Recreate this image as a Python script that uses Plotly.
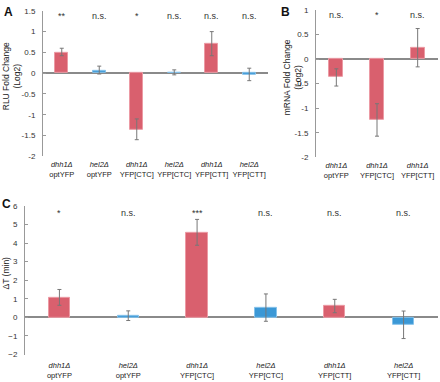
import plotly.graph_objects as go

W, H = 440, 382
FONT = "Liberation Sans, Arial, sans-serif"

# ---------------- data ----------------
catsA = ["<i>dhh1Δ</i><br>optYFP", "<i>hel2Δ</i><br>optYFP", "<i>dhh1Δ</i><br>YFP[CTC]",
         "<i>hel2Δ</i><br>YFP[CTC]", "<i>dhh1Δ</i><br>YFP[CTT]", "<i>hel2Δ</i><br>YFP[CTT]"]
valsA = [0.50, 0.06, -1.36, 0.02, 0.71, -0.03]
errA_up = [0.10, 0.11, 0.26, 0.06, 0.29, 0.15]
errA_dn = [0.08, 0.08, 0.24, 0.06, 0.29, 0.15]
colorsA = ["r", "b", "r", "b", "r", "b"]
sigA = ["**", "n.s.", "*", "n.s.", "n.s.", "n.s."]

catsB = ["<i>dhh1Δ</i><br>optYFP", "<i>dhh1Δ</i><br>YFP[CTC]", "<i>dhh1Δ</i><br>YFP[CTT]"]
valsB = [-0.37, -1.24, 0.23]
errB_up = [0.17, 0.33, 0.39]
errB_dn = [0.18, 0.33, 0.39]
sigB = ["n.s.", "*", "n.s."]

catsC = catsA
valsC = [1.07, 0.07, 4.57, 0.53, 0.61, -0.40]
errC_up = [0.43, 0.28, 0.70, 0.73, 0.36, 0.74]
errC_dn = [0.42, 0.24, 0.69, 0.74, 0.36, 0.74]
sigC = ["*", "n.s.", "***", "n.s.", "n.s.", "n.s."]

RED_FILL, RED_LINE = "#d9606e", "#ec9aa4"
BLUE_FILL, BLUE_LINE = "#3b98d6", "#86c2ea"

def fills(keys):
    return [RED_FILL if k == "r" else BLUE_FILL for k in keys]

def lines(keys):
    return [RED_LINE if k == "r" else BLUE_LINE for k in keys]

fig = go.Figure()

def add_bars(cats, vals, up, dn, keys, xa, ya, width):
    fig.add_trace(go.Bar(
        x=cats, y=vals, xaxis=xa, yaxis=ya, width=width,
        marker=dict(color=fills(keys), line=dict(color=lines(keys), width=1)),
        error_y=dict(type="data", symmetric=False, array=up, arrayminus=dn,
                     color="#777777", thickness=1, width=2),
        showlegend=False, hoverinfo="skip"))

add_bars(catsA, valsA, errA_up, errA_dn, colorsA, "x", "y", 0.34)
add_bars(catsB, valsB, errB_up, errB_dn, ["r"] * 3, "x2", "y2", 0.34)
add_bars(catsC, valsC, errC_up, errC_dn, colorsA, "x3", "y3", 0.31)

def px(x):
    return x / W

def py(y):
    return 1 - y / H

ycommon = dict(showline=True, linecolor="#999999", linewidth=1, ticks="inside",
               ticklen=3, tickcolor="#999999", showgrid=False, zeroline=True,
               zerolinecolor="#8a8a8a", zerolinewidth=1.5, ticklabelstandoff=5,
               tickfont=dict(size=8, color="#333333", family=FONT), fixedrange=True)

def xax(dom, anchor, standoff):
    return dict(domain=dom, anchor=anchor, showline=False, showgrid=False, zeroline=False,
                ticks="", ticklabelstandoff=standoff, tickangle=0,
                tickfont=dict(size=7.5, color="#222222", family=FONT))

fig.update_layout(
    width=W, height=H, margin=dict(l=0, r=0, t=0, b=0),
    paper_bgcolor="white", plot_bgcolor="white", bargap=0,
    font=dict(family=FONT),
    xaxis=xax([px(43), px(268)], "y", 2),
    yaxis=dict(domain=[py(156), py(7)], range=[-2, 1.5], anchor="x",
               tickvals=[-2, -1.5, -1, -0.5, 0, 0.5, 1, 1.5],
               ticktext=["-2", "-1.5", "-1", "-0.5", "0", "0.5", "1", "1.5"], **ycommon),
    xaxis2=xax([px(316), px(438)], "y2", 2),
    yaxis2=dict(domain=[py(157), py(6)], range=[-2, 1], anchor="x2",
                tickvals=[-2, -1.5, -1, -0.5, 0, 0.5, 1],
                ticktext=["-2", "-1.5", "-1", "-0.5", "0", "0.5", "1"], **ycommon),
    xaxis3=xax([px(25), px(438)], "y3", 5),
    yaxis3=dict(domain=[py(359), py(206.7)], range=[-2, 6], dtick=1, anchor="x3", **ycommon),
)

ann = []
def sig(cats, sigs, xref, ypx):
    for c, s in zip(cats, sigs):
        ann.append(dict(x=c, y=py(ypx), xref=xref, yref="paper", text=s, showarrow=False,
                        xanchor="center", yanchor="middle",
                        font=dict(size=9, color="#333333", family=FONT)))

sig(catsA, sigA, "x", 12)
sig(catsB, sigB, "x2", 11)
sig(catsC, sigC, "x3", 214)

def label(text, xx, yy, size, angle=0, color="#222222"):
    ann.append(dict(x=px(xx), y=py(yy), xref="paper", yref="paper", text=text,
                    textangle=angle, showarrow=False, xanchor="center", yanchor="middle",
                    font=dict(size=size, color=color, family=FONT)))

# axis titles
label("RLU Fold Change<br>(Log2)", 11, 74, 8.5, -90)
label("mRNA Fold Change<br>(Log2)", 292, 75, 8.5, -90)
label("ΔT (min)", 6, 276, 8.5, -90)

# panel letters
label("<b>A</b>", 8, 8, 12, 0, "#111111")
label("<b>B</b>", 285, 8, 12, 0, "#111111")
label("<b>C</b>", 7, 205, 12, 0, "#111111")

fig.update_layout(annotations=ann)
fig.write_html("out.html")
